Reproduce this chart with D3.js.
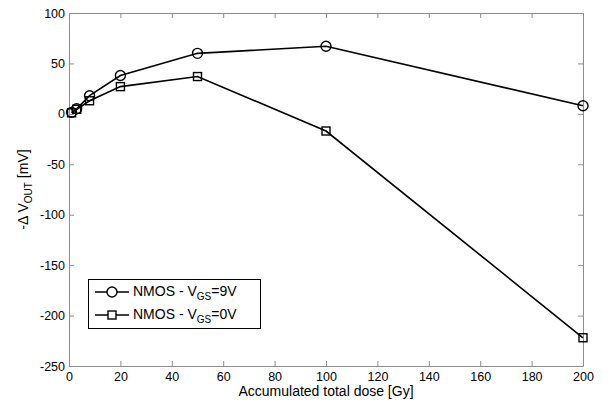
<!DOCTYPE html>
<html>
<head>
<meta charset="utf-8">
<script src="https://cdn.jsdelivr.net/npm/d3@7"></script>
<style>
  body { margin: 0; background: #fff; }
  text { font-family: "Liberation Sans", Arial, sans-serif; fill: #000; }
</style>
</head>
<body>
<div id="chart"></div>
<script>
// ── Data ───────────────────────────────────────────────────────────────
const doses  = [1, 3, 8, 20, 50, 100, 200];
const vgs9V  = [1.5, 5, 18, 38, 60, 67, 8];
const vgs0V  = [1, 4.5, 13, 27, 37, -17, -222];
const xTicks = [0, 20, 40, 60, 80, 100, 120, 140, 160, 180, 200];
const yTicks = [100, 50, 0, -50, -100, -150, -200, -250];

const W = 610, H = 404;
const m = { l: 69, r: 27, t: 13, b: 38 };

const svg = d3.select("#chart").append("svg").attr("width", W).attr("height", H);

const x = d3.scaleLinear().domain([0, 200]).range([m.l, W - m.r]);
const y = d3.scaleLinear().domain([-250, 100]).range([H - m.b, m.t]);

const AX = "#8c8c8c";

// ── Box + ticks ────────────────────────────────────────────────────────
const axB = svg.append("g").attr("transform", `translate(0,${H - m.b})`)
  .call(d3.axisBottom(x).tickValues(xTicks).tickSizeInner(-5).tickSizeOuter(0).tickPadding(6));
const axT = svg.append("g").attr("transform", `translate(0,${m.t})`)
  .call(d3.axisTop(x).tickValues(xTicks).tickSizeInner(-5).tickSizeOuter(0).tickFormat(""));
const axL = svg.append("g").attr("transform", `translate(${m.l},0)`)
  .call(d3.axisLeft(y).tickValues(yTicks).tickSizeInner(-5).tickSizeOuter(0).tickPadding(4));
const axR = svg.append("g").attr("transform", `translate(${W - m.r},0)`)
  .call(d3.axisRight(y).tickValues(yTicks).tickSizeInner(-5).tickSizeOuter(0).tickFormat(""));

[axB, axT, axL, axR].forEach(g => {
  g.select(".domain").attr("stroke", AX);
  g.selectAll(".tick line").attr("stroke", AX);
  g.selectAll(".tick text").attr("font-size", 12.5).attr("fill", "#000")
    .attr("font-family", "Liberation Sans, Arial, sans-serif");
});
axL.selectAll(".tick text").text(d => d3.format("d")(d).replace("−", "-"));

// ── Series ─────────────────────────────────────────────────────────────
const line = d3.line().x(d => x(d[0])).y(d => y(d[1]));
const s9 = doses.map((d, i) => [d, vgs9V[i]]);
const s0 = doses.map((d, i) => [d, vgs0V[i]]);

const plot = svg.append("g");
[s0, s9].forEach(s => {
  plot.append("path").datum(s).attr("d", line)
    .attr("fill", "none").attr("stroke", "#000").attr("stroke-width", 1.6);
});

plot.selectAll("rect.sq").data(s0).join("rect").attr("class", "sq")
  .attr("x", d => x(d[0]) - 4).attr("y", d => y(d[1]) - 4)
  .attr("width", 8).attr("height", 8)
  .attr("fill", "none").attr("stroke", "#000").attr("stroke-width", 1.4);

plot.selectAll("circle.ci").data(s9).join("circle").attr("class", "ci")
  .attr("cx", d => x(d[0])).attr("cy", d => y(d[1])).attr("r", 5)
  .attr("fill", "none").attr("stroke", "#000").attr("stroke-width", 1.4);

// ── Legend ─────────────────────────────────────────────────────────────
const lg = svg.append("g");
lg.append("rect").attr("x", 88.5).attr("y", 279.5).attr("width", 172).attr("height", 49)
  .attr("fill", "#fff").attr("stroke", "#000").attr("stroke-width", 1);

const rows = [{ y: 292, mark: "circle", v: "=9V" }, { y: 315, mark: "square", v: "=0V" }];
rows.forEach(r => {
  lg.append("line").attr("x1", 95).attr("x2", 129).attr("y1", r.y).attr("y2", r.y)
    .attr("stroke", "#000").attr("stroke-width", 1.6);
  if (r.mark === "circle") {
    lg.append("circle").attr("cx", 112).attr("cy", r.y).attr("r", 5)
      .attr("fill", "#fff").attr("stroke", "#000").attr("stroke-width", 1.4);
  } else {
    lg.append("rect").attr("x", 108).attr("y", r.y - 4).attr("width", 8).attr("height", 8)
      .attr("fill", "#fff").attr("stroke", "#000").attr("stroke-width", 1.4);
  }
  const t = lg.append("text").attr("x", 133).attr("y", r.y + 4).attr("font-size", 14);
  t.append("tspan").text("NMOS - V");
  t.append("tspan").attr("font-size", 10).attr("dy", 4).text("GS");
  t.append("tspan").attr("dy", -4).text(r.v);
});

// ── Axis labels ────────────────────────────────────────────────────────
svg.append("text").attr("x", x(100)).attr("y", 396).attr("text-anchor", "middle")
  .attr("font-size", 14).text("Accumulated total dose [Gy]");

const yl = svg.append("text").attr("transform", `translate(28,${y(-75)}) rotate(-90)`)
  .attr("text-anchor", "middle").attr("font-size", 14);
yl.append("tspan").text("-Δ V");
yl.append("tspan").attr("font-size", 10).attr("dy", 4).text("OUT");
yl.append("tspan").attr("dy", -4).text(" [mV]");
</script>
</body>
</html>
